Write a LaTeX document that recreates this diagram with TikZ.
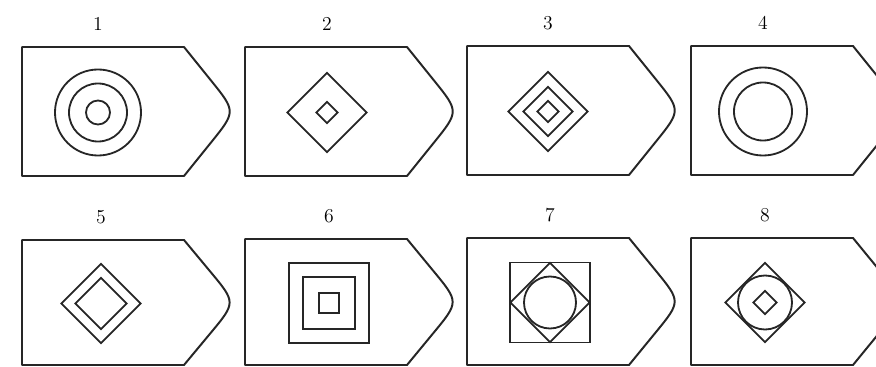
\documentclass[tikz,border=0pt]{standalone}
\usetikzlibrary{shapes.geometric, calc}

\begin{document}
\begin{tikzpicture}[
    x=0.025cm, y=-0.025cm,
    % Outline of every tag
    tag/.style={draw=black!85, line width=1.4pt, line join=round},
    % Emblem styles
    ring/.style={draw=black!85, circle, line width=1.3pt, inner sep=0pt},
    rhomb/.style={draw=black!85, diamond, aspect=1, line width=1.3pt, inner sep=0pt},
    sqbox/.style={draw=black!85, rectangle, line width=1.3pt, inner sep=0pt},
    num/.style={font=\fontsize{14}{16}\selectfont, inner sep=1pt}
]
    \useasboundingbox (0,0) rectangle (876,367);

    % ==================== Tag outlines and numbers ====================
    % number / left / top / bottom / emblem centre x
    \foreach \n/\L/\T/\B/\cx in {1/22/47/176/98, 2/245/47/176/327, 3/467/46/175/548, 4/691/46/175/763,
                                  5/22/240/365/101, 6/245/239/365/329, 7/467/238/365/550, 8/691/238/365/765} {
        \coordinate (nw\n) at (\L,\T);
        \coordinate (sw\n) at (\L,\B);
        \coordinate (ne\n) at ({\L+162},\T);
        \coordinate (se\n) at ({\L+162},\B);
        \coordinate (tip\n) at ({\L+214},{(\T+\B)/2});
        \coordinate (c\n) at (\cx,{(\T+\B)/2+1});
        \draw [tag] (nw\n) -- (ne\n) -- ($(tip\n)!1cm!(ne\n)$) .. controls (tip\n) .. ($(tip\n)!1cm!(se\n)$) -- (se\n) -- (sw\n) -- cycle;
        \node (num\n) [num] at (\cx,{\T-23}) {\n};
    }

    % ==================== Top row ====================
    % 1: three rings
    \node (ring1a) [ring, minimum size=2.15cm] at (c1) {};
    \node (ring1b) [ring, minimum size=1.45cm] at (c1) {};
    \node (ring1c) [ring, minimum size=0.6cm] at (c1) {};

    % 2: two diamonds
    \node (rhomb2a) [rhomb, minimum size=2.0cm] at (c2) {};
    \node (rhomb2b) [rhomb, minimum size=0.55cm] at (c2) {};

    % 3: three diamonds
    \node (rhomb3a) [rhomb, minimum size=2.0cm] at (c3) {};
    \node (rhomb3b) [rhomb, minimum size=1.25cm] at (c3) {};
    \node (rhomb3c) [rhomb, minimum size=0.55cm] at (c3) {};

    % 4: two rings
    \node (ring4a) [ring, minimum size=2.2cm] at (c4) {};
    \node (ring4b) [ring, minimum size=1.45cm] at (c4) {};

    % ==================== Bottom row ====================
    % 5: two diamonds
    \node (rhomb5a) [rhomb, minimum size=2.0cm] at (c5) {};
    \node (rhomb5b) [rhomb, minimum size=1.3cm] at (c5) {};

    % 6: three squares
    \node (sq6a) [sqbox, minimum size=2.0cm] at (c6) {};
    \node (sq6b) [sqbox, minimum size=1.28cm] at (c6) {};
    \node (sq6c) [sqbox, minimum size=0.5cm] at (c6) {};

    % 7: square, diamond, ring
    \node (sq7) [sqbox, minimum size=2.0cm] at (c7) {};
    \node (rhomb7) [rhomb, minimum size=2.0cm] at (c7) {};
    \node (ring7) [ring, minimum size=1.3cm] at (c7) {};

    % 8: diamond, ring, diamond
    \node (rhomb8a) [rhomb, minimum size=2.0cm] at (c8) {};
    \node (ring8) [ring, minimum size=1.35cm] at (c8) {};
    \node (rhomb8b) [rhomb, minimum size=0.6cm] at (c8) {};

\end{tikzpicture}
\end{document}
